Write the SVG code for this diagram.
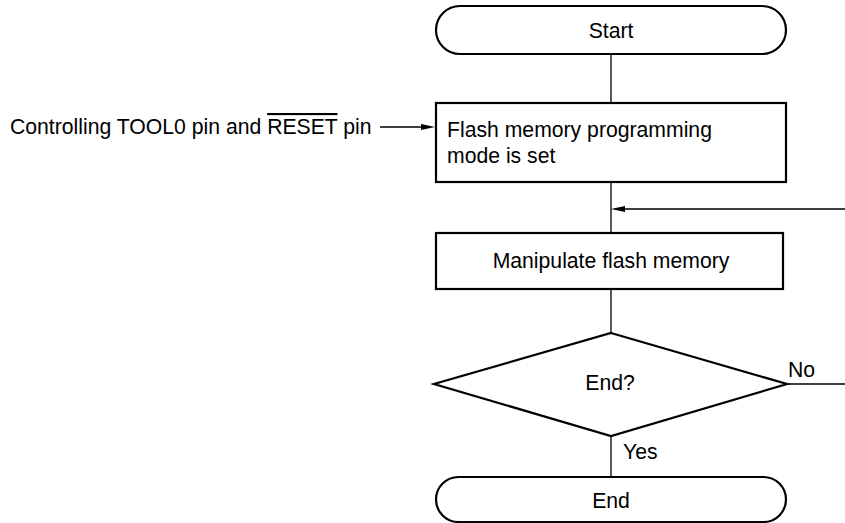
<svg xmlns="http://www.w3.org/2000/svg" width="845" height="523" viewBox="0 0 845 523">
<style>
.shape{fill:#fff;stroke:#000;stroke-width:2.2}
.line{fill:none;stroke:#000;stroke-width:1.3}
text{font-family:"Liberation Sans",Arial,sans-serif;font-size:21.2px;fill:#000}
.c{text-anchor:middle}
</style>
<rect width="845" height="523" fill="#fff"/>
<g id="connectors">
<line class="line" x1="611" y1="54" x2="611" y2="103"/>
<line class="line" x1="611" y1="182" x2="611" y2="233"/>
<line class="line" x1="611" y1="289" x2="611" y2="333"/>
<line class="line" x1="611" y1="436" x2="611" y2="477"/>
<line class="line" x1="787" y1="384" x2="845" y2="384"/>
<line class="line" x1="845" y1="209" x2="625" y2="209"/>
<path d="M611,209 L625,206 L625,212 Z" fill="#000"/>
<line class="line" x1="380" y1="127" x2="422" y2="127"/>
<path d="M435,127 L421,124 L421,130 Z" fill="#000"/>
<text x="788" y="377">No</text>
<text x="623" y="459">Yes</text>
</g>
<g id="input-label">
<text x="10" y="134">Controlling TOOL0 pin and <tspan text-decoration="overline">RESET</tspan> pin</text>
</g>
<g id="start">
<rect class="shape" x="436" y="6" width="350" height="48" rx="24" ry="24"/>
<text class="c" x="611" y="38">Start</text>
</g>
<g id="set-mode">
<rect class="shape" x="436" y="103" width="350" height="79"/>
<text x="447" y="137">Flash memory programming</text>
<text x="447" y="163">mode is set</text>
</g>
<g id="manipulate">
<rect class="shape" x="436" y="233" width="347" height="56"/>
<text class="c" x="611" y="268">Manipulate flash memory</text>
</g>
<g id="end-decision">
<polygon class="shape" points="611,333 787,384 611,436 434,384"/>
<text class="c" x="610" y="390">End?</text>
</g>
<g id="end">
<rect class="shape" x="436" y="477" width="350" height="45" rx="22.5" ry="22.5"/>
<text class="c" x="611" y="508">End</text>
</g>
</svg>
